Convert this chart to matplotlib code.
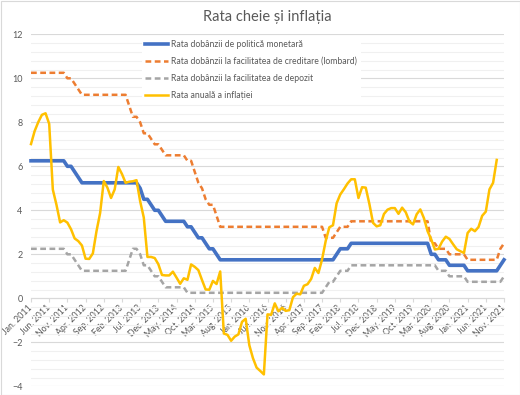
import numpy as np
import matplotlib
matplotlib.use("Agg")
import matplotlib.pyplot as plt
from matplotlib.patches import Rectangle

plt.rcParams['font.family'] = ['Lato', 'DejaVu Sans']

title = "Rata cheie și inflația"

labels = ["Rata dobânzii de politică monetară",
          "Rata dobânzii la facilitatea de creditare (lombard)",
          "Rata dobânzii la facilitatea de depozit",
          "Rata anuală a inflației"]

# monthly categories Jan 2011 .. Nov 2021 (131 months); a label every 5 months
tick_labels = ["Jan. 2011", "Jun. 2011", "Nov. 2011", "Apr. 2012", "Sep. 2012",
               "Feb. 2013", "Jul. 2013", "Dec. 2013", "May. 2014", "Oct. 2014",
               "Mar. 2015", "Aug. 2015", "Jan. 2016", "Jun. 2016", "Nov. 2016",
               "Apr. 2017", "Sep. 2017", "Feb. 2018", "Jul. 2018", "Dec. 2018",
               "May. 2019", "Oct. 2019", "Mar. 2020", "Aug. 2020", "Jan. 2021",
               "Jun. 2021", "Nov. 2021"]

policy = [
    6.25, 6.25, 6.25, 6.25, 6.25, 6.25, 6.25, 6.25, 6.25, 6.25, 6.00, 6.00,   # 2011
    5.75, 5.50, 5.25, 5.25, 5.25, 5.25, 5.25, 5.25, 5.25, 5.25, 5.25, 5.25,   # 2012
    5.25, 5.25, 5.25, 5.25, 5.25, 5.25, 5.00, 4.50, 4.50, 4.25, 4.00, 4.00,   # 2013
    3.75, 3.50, 3.50, 3.50, 3.50, 3.50, 3.50, 3.25, 3.25, 3.00, 2.75, 2.75,   # 2014
    2.50, 2.25, 2.25, 2.00, 1.75, 1.75, 1.75, 1.75, 1.75, 1.75, 1.75, 1.75,   # 2015
    1.75, 1.75, 1.75, 1.75, 1.75, 1.75, 1.75, 1.75, 1.75, 1.75, 1.75, 1.75,   # 2016
    1.75, 1.75, 1.75, 1.75, 1.75, 1.75, 1.75, 1.75, 1.75, 1.75, 1.75, 1.75,   # 2017
    2.00, 2.25, 2.25, 2.25, 2.50, 2.50, 2.50, 2.50, 2.50, 2.50, 2.50, 2.50,   # 2018
    2.50, 2.50, 2.50, 2.50, 2.50, 2.50, 2.50, 2.50, 2.50, 2.50, 2.50, 2.50,   # 2019
    2.50, 2.50, 2.00, 2.00, 1.75, 1.75, 1.75, 1.50, 1.50, 1.50, 1.50, 1.50,   # 2020
    1.25, 1.25, 1.25, 1.25, 1.25, 1.25, 1.25, 1.25, 1.25, 1.50, 1.75,         # 2021
]

lombard = [
    10.25, 10.25, 10.25, 10.25, 10.25, 10.25, 10.25, 10.25, 10.25, 10.25, 10.00, 10.00,
    9.75, 9.50, 9.25, 9.25, 9.25, 9.25, 9.25, 9.25, 9.25, 9.25, 9.25, 9.25,
    9.25, 9.25, 9.25, 8.75, 8.25, 8.25, 8.00, 7.50, 7.50, 7.25, 7.00, 7.00,
    6.75, 6.50, 6.50, 6.50, 6.50, 6.50, 6.50, 6.25, 6.25, 5.75, 5.25, 5.00,
    4.50, 4.25, 4.25, 3.75, 3.25, 3.25, 3.25, 3.25, 3.25, 3.25, 3.25, 3.25,
    3.25, 3.25, 3.25, 3.25, 3.25, 3.25, 3.25, 3.25, 3.25, 3.25, 3.25, 3.25,
    3.25, 3.25, 3.25, 3.25, 3.25, 3.25, 3.25, 3.25, 3.25, 2.75, 2.75, 2.75,
    3.00, 3.25, 3.25, 3.25, 3.50, 3.50, 3.50, 3.50, 3.50, 3.50, 3.50, 3.50,
    3.50, 3.50, 3.50, 3.50, 3.50, 3.50, 3.50, 3.50, 3.50, 3.50, 3.50, 3.50,
    3.50, 3.50, 2.50, 2.50, 2.25, 2.25, 2.25, 2.00, 2.00, 2.00, 2.00, 2.00,
    1.75, 1.75, 1.75, 1.75, 1.75, 1.75, 1.75, 1.75, 1.75, 2.25, 2.50,
]

deposit = [
    2.25, 2.25, 2.25, 2.25, 2.25, 2.25, 2.25, 2.25, 2.25, 2.25, 2.00, 2.00,
    1.75, 1.50, 1.25, 1.25, 1.25, 1.25, 1.25, 1.25, 1.25, 1.25, 1.25, 1.25,
    1.25, 1.25, 1.25, 1.75, 2.25, 2.25, 2.00, 1.50, 1.50, 1.25, 1.00, 1.00,
    0.75, 0.50, 0.50, 0.50, 0.50, 0.50, 0.50, 0.25, 0.25, 0.25, 0.25, 0.25,
    0.25, 0.25, 0.25, 0.25, 0.25, 0.25, 0.25, 0.25, 0.25, 0.25, 0.25, 0.25,
    0.25, 0.25, 0.25, 0.25, 0.25, 0.25, 0.25, 0.25, 0.25, 0.25, 0.25, 0.25,
    0.25, 0.25, 0.25, 0.25, 0.25, 0.25, 0.25, 0.25, 0.25, 0.50, 0.75, 0.75,
    1.00, 1.25, 1.25, 1.25, 1.50, 1.50, 1.50, 1.50, 1.50, 1.50, 1.50, 1.50,
    1.50, 1.50, 1.50, 1.50, 1.50, 1.50, 1.50, 1.50, 1.50, 1.50, 1.50, 1.50,
    1.50, 1.50, 1.50, 1.50, 1.25, 1.25, 1.25, 1.00, 1.00, 1.00, 1.00, 1.00,
    0.75, 0.75, 0.75, 0.75, 0.75, 0.75, 0.75, 0.75, 0.75, 0.75, 1.00,
]

inflation = [
    7.01, 7.60, 8.01, 8.34, 8.41, 7.93, 4.94, 4.25, 3.45, 3.55, 3.44, 3.14,
    2.72, 2.60, 2.40, 1.80, 1.79, 2.04, 3.05, 3.88, 5.33, 5.03, 4.56, 4.95,
    5.97, 5.65, 5.25, 5.30, 5.32, 5.37, 4.41, 3.67, 1.88, 1.88, 1.83, 1.55,
    1.06, 1.04, 1.04, 1.21, 0.94, 0.66, 0.91, 0.84, 1.54, 1.43, 1.28, 0.83,
    0.40, 0.39, 0.79, 0.65, 1.22, -1.60, -1.66, -1.93, -1.74, -1.64, -1.07, -0.93,
    -2.13, -2.72, -3.15, -3.30, -3.46, -0.73, -0.75, -0.23, -0.59, -0.43, -0.57, -0.54,
    0.05, 0.21, 0.18, 0.57, 0.64, 0.88, 1.38, 1.15, 1.77, 2.61, 3.23, 3.32,
    4.32, 4.72, 4.96, 5.22, 5.41, 5.41, 4.56, 5.05, 5.03, 4.29, 3.43, 3.27,
    3.32, 3.83, 4.03, 4.10, 4.10, 3.84, 4.12, 3.91, 3.49, 3.36, 3.82, 4.04,
    3.64, 3.05, 2.68, 2.22, 2.25, 2.58, 2.80, 2.70, 2.46, 2.23, 2.14, 2.06,
    2.97, 3.16, 3.05, 3.24, 3.75, 3.94, 4.95, 5.25, 6.29,
]

W, H = 520, 395
fig = plt.figure(figsize=(W / 100, H / 100), dpi=100)
fig.patch.set_facecolor('white')
x0, x1 = 31, 504
ytop, ybot = 34.3, 386.3
ax = fig.add_axes([x0 / W, 1 - ybot / H, (x1 - x0) / W, (ybot - ytop) / H])

x = np.arange(len(policy))
ax.plot(x, policy, color='#4472C4', lw=2.6, label=labels[0], clip_on=False, zorder=3)
ax.plot(x, lombard, color='#ED7D31', lw=1.8, dashes=(2.3, 1.4), label=labels[1], clip_on=False, zorder=3)
ax.plot(x, deposit, color='#A5A5A5', lw=1.8, dashes=(2.3, 1.4), label=labels[2], clip_on=False, zorder=3)
ax.plot(x[:len(inflation)], inflation, color='#FFC000', lw=1.8, label=labels[3], clip_on=False, zorder=3)

ax.set_xlim(0, len(policy) - 1)
ax.set_ylim(-4, 12)
ax.set_yticks(np.arange(-4, 13, 2))
ax.set_yticks(np.arange(-4, 12.01, 0.4), minor=True)
ax.grid(axis='y', which='major', color='#d9d9d9', lw=0.8, zorder=0)
ax.grid(axis='y', which='minor', color='#f0f0f0', lw=0.8, zorder=0)
ax.set_axisbelow(True)

for s in ['top', 'right', 'left']:
    ax.spines[s].set_visible(False)
ax.spines['bottom'].set_position(('data', 0))
ax.spines['bottom'].set_color('#d9d9d9')
ax.spines['bottom'].set_linewidth(0.8)

ax.set_xticks(np.arange(0, len(policy), 5))
ax.set_xticklabels(tick_labels)
ax.tick_params(axis='x', which='both', length=3, color='#d9d9d9', width=0.8,
               labelsize=6.3, labelcolor='#595959', pad=3)
for lab in ax.get_xticklabels():
    lab.set_rotation(45)
    lab.set_ha('right')
    lab.set_va('center')
    lab.set_rotation_mode('anchor')
ax.tick_params(axis='y', which='both', length=0, labelsize=6.5, labelcolor='#595959', pad=6)

fig.text((x0 + x1) / 2 / W, 1 - 17 / H, title, ha='center', va='center',
         fontsize=10.5, color='#595959')

leg = ax.legend(loc='upper left', bbox_to_anchor=(141.5 / W, 1 - 36.5 / H),
                bbox_transform=fig.transFigure, borderaxespad=0,
                frameon=True, facecolor='white', edgecolor='none', framealpha=1,
                fontsize=6.2, handlelength=2.65, handletextpad=0.4,
                labelspacing=0.92, borderpad=0.4)
for t in leg.get_texts():
    t.set_color('#595959')
leg.set_zorder(5)

fig.patches.append(Rectangle((0.5 / W, 0.5 / H), 1 - 1 / W, 1 - 1 / H,
                             transform=fig.transFigure, fill=False,
                             edgecolor='#d9d9d9', lw=0.8))

fig.savefig('out.png', dpi=100)
